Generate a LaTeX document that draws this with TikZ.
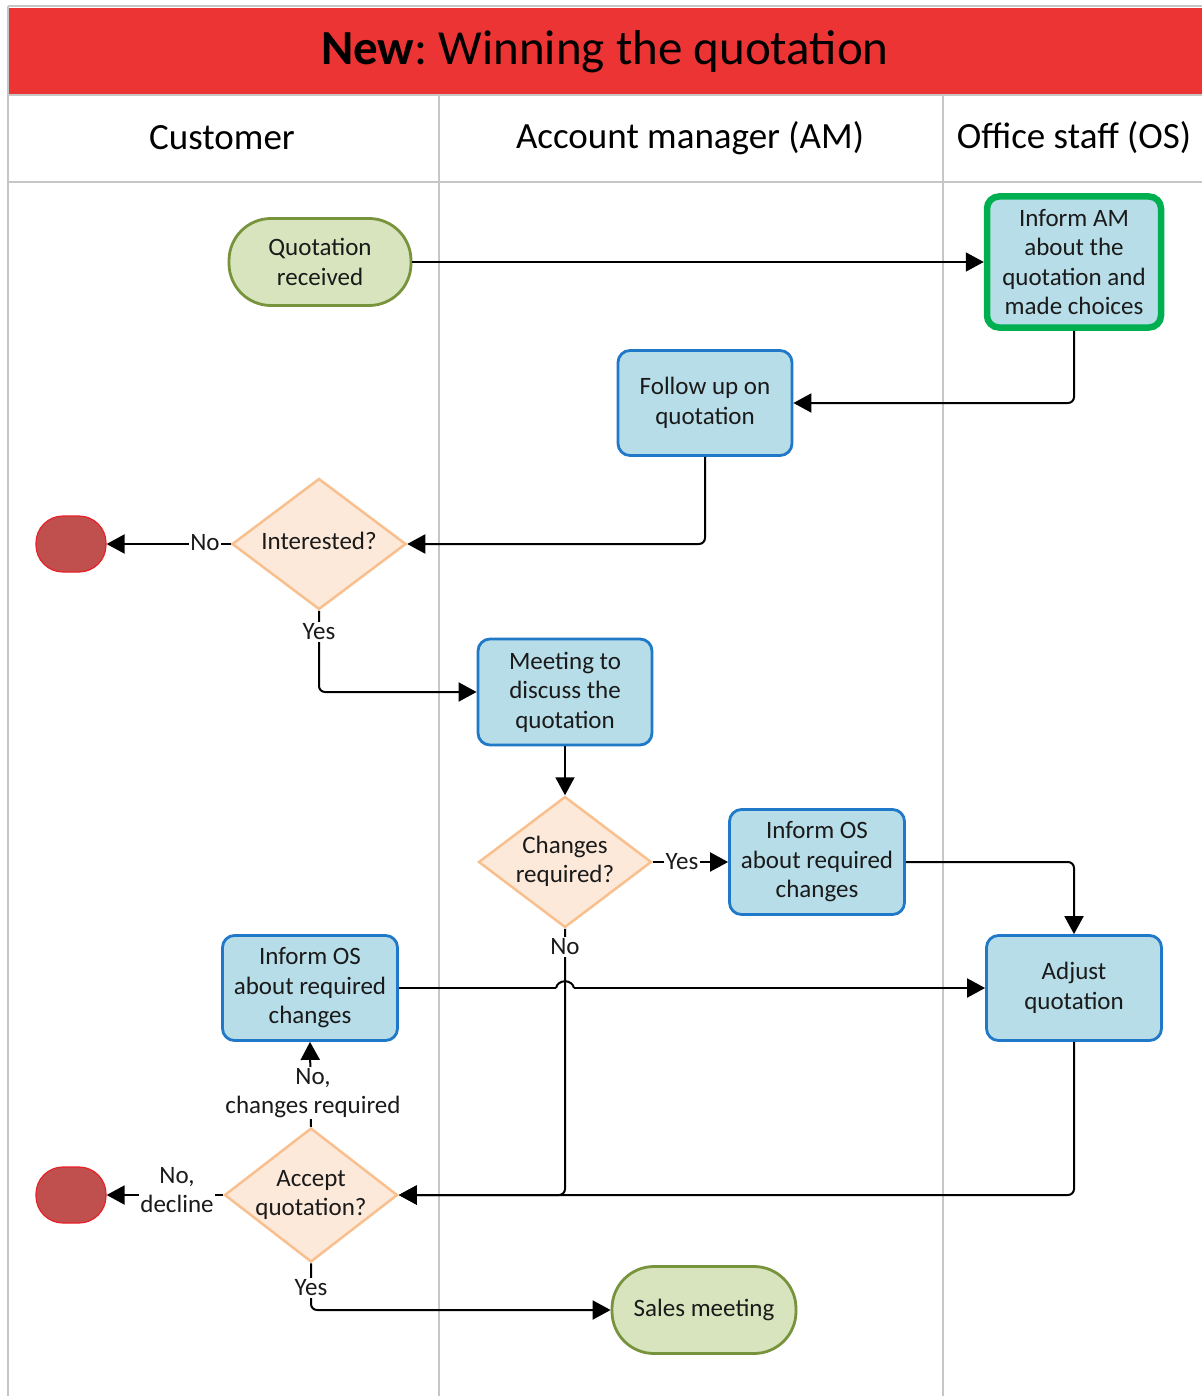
\documentclass[tikz,border=0pt]{standalone}
\usepackage{fontspec}
\setmainfont{Carlito}
\usetikzlibrary{shapes.geometric,arrows.meta}
\definecolor{titlered}{HTML}{EC3434}
\definecolor{lanegray}{HTML}{C6C6C6}
\definecolor{procfill}{HTML}{B7DDE8}
\definecolor{procedge}{HTML}{1F78C8}
\definecolor{termfill}{HTML}{D7E4BD}
\definecolor{termedge}{HTML}{77933C}
\definecolor{decfill}{HTML}{FDE9D9}
\definecolor{decedge}{HTML}{F9C08E}
\definecolor{endfill}{HTML}{C0504D}
\definecolor{endedge}{HTML}{E8202A}
\definecolor{hiedge}{HTML}{00B050}
\definecolor{ink}{HTML}{1A1A1A}
\newcommand{\ctr}[1]{\makebox[0pt]{\begin{tabular}{@{}c@{}}#1\end{tabular}}}
\begin{document}
\begin{tikzpicture}[x=1pt,y=-1pt,
  every node/.style={font=\fontsize{25}{29.5}\selectfont, text=ink},
  proc/.style={draw=procedge, fill=procfill, line width=2.8pt, rounded corners=12pt,
    minimum width=175pt, minimum height=105pt, align=center, inner sep=0pt},
  hiproc/.style={proc, draw=hiedge, line width=6.5pt, minimum width=174pt, minimum height=131pt},
  term/.style={draw=termedge, fill=termfill, line width=2.8pt, rounded corners=42pt,
    minimum width=182pt, minimum height=87pt, align=center, inner sep=0pt},
  decision/.style={diamond, aspect=1.33, draw=decedge, fill=decfill, line width=2.5pt,
    minimum width=173pt, minimum height=131pt, inner sep=0pt},
  stopper/.style={draw=endedge, fill=endfill, line width=1.2pt, rounded corners=27pt,
    minimum width=70pt, minimum height=56pt},
  flow/.style={line width=2pt, draw=black, rounded corners=6pt, -{Triangle[length=18pt,width=19pt]}},
  plain/.style={line width=2pt, draw=black, rounded corners=6pt},
  tag/.style={fill=white, inner sep=1.5pt, align=center},
  lane/.style={draw=lanegray, line width=2.6pt},
  header/.style={font=\fontsize{37}{42}\selectfont, text=black}
]
\useasboundingbox (0,0) rectangle (1201,1396);
\fill[white] (0,0) rectangle (1201,1396);

% swimlane frame
\fill[titlered] (8,8) rectangle (1205,95);
\draw[lane] (8,6) -- (1205,6);
\draw[lane] (8,6) -- (8,1398);
\draw[lane] (8,95) -- (1205,95);
\draw[lane] (8,182) -- (1205,182);
\draw[lane] (439,95) -- (439,1398);
\draw[lane] (943,95) -- (943,1398);

\node[font=\fontsize{49}{54}\selectfont, text=black] (title) at (605,52) {\textbf{New}:~Winning the quotation};
\node[header] (hcust) at (222,138) {Customer};
\node[header] (ham) at (690,138) {Account manager (AM)};
\node[header] (hos) at (1074,138) {Office staff (OS)};

% nodes
\node[term] (qr) at (320,262) {Quotation\\received};
\node[hiproc] (ia) at (1074,262) {Inform AM\\about the\\quotation and\\made choices};
\node[proc, minimum width=174pt] (fu) at (705,403) {Follow up on\\quotation};
\node[decision, minimum width=174pt] (int) at (319,544) {\ctr{Interested?}};
\node[stopper] (end1) at (71,544) {};
\node[proc, minimum width=174pt, minimum height=106pt] (meet) at (565,692) {Meeting to\\discuss the\\quotation};
\node[decision] (chg) at (565,862) {\ctr{Changes\\required?}};
\node[proc] (ios) at (817,862) {Inform OS\\about required\\changes};
\node[proc] (adj) at (1074,988) {Adjust\\quotation};
\node[proc] (ioc) at (310,988) {Inform OS\\about required\\changes};
\node[decision, minimum height=134pt] (acc) at (311,1195) {\ctr{Accept\\quotation?}};
\node[stopper] (end2) at (71,1195) {};
\node[term, minimum width=184pt] (sales) at (704,1310) {Sales meeting};

% connectors
\draw[flow] (qr.east) -- (ia.west);
\draw[flow] (ia.south) |- (fu.east);
\draw[flow] (fu.south) |- (int.east);
\draw[flow] (int.west) -- (end1.east);
\draw[flow] (int.south) |- (meet.west);
\draw[flow] (meet.south) -- (chg.north);
\draw[flow] (chg.east) -- (ios.west);
\draw[flow] (ios.east) -| (adj.north);
\coordinate (hopa) at (556,988);
\coordinate (hopb) at (574,988);
\draw[plain] (ioc.east) -- (hopa);
\draw[line width=2pt] (hopa) .. controls (558,979) and (572,979) .. (hopb);
\draw[flow] (hopb) -- (adj.west);
\draw[flow] (chg.south) |- (acc.east);
\draw[flow] (adj.south) |- (acc.east);
\draw[flow] (acc.north) -- (ioc.south);
\draw[flow] (acc.west) -- (end2.east);
\draw[flow] (acc.south) |- (sales.west);

% connector labels
\node[tag] (lno1) at (205,543) {No};
\node[tag] (lyes1) at (319,632) {Yes};
\node[tag] (lyes2) at (682,862) {Yes};
\node[tag] (lno2) at (565,947) {No};
\node[tag] (lno3) at (313,1093) {No,\\changes required};
\node[tag] (lno4) at (177,1190) {No,\\decline};
\node[tag] (lyes3) at (311,1288) {Yes};
\end{tikzpicture}
\end{document}
